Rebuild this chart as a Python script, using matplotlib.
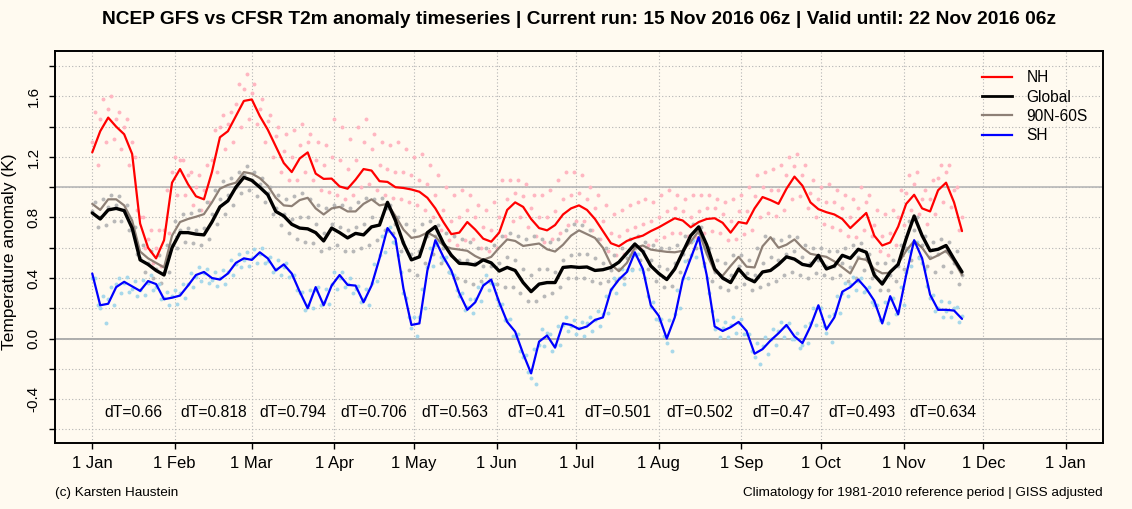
import numpy as np
import matplotlib
matplotlib.use("Agg")
import matplotlib.pyplot as plt
from matplotlib.lines import Line2D

plt.rcParams['font.family'] = ['Liberation Sans', 'DejaVu Sans']

# ---------------- data (day of year 2016, 0 = 1 Jan) ----------------
month_starts = [0, 31, 60, 91, 121, 152, 182, 213, 244, 274, 305, 335, 366]
month_labels = ['1 Jan', '1 Feb', '1 Mar', '1 Apr', '1 May', '1 Jun', '1 Jul',
                '1 Aug', '1 Sep', '1 Oct', '1 Nov', '1 Dec', '1 Jan']
dT_values = ['0.66', '0.818', '0.794', '0.706', '0.563', '0.41', '0.501',
             '0.502', '0.47', '0.493', '0.634']

# smoothed lines, sampled every 3 days starting 1 Jan
nh_line = [1.23, 1.37, 1.46, 1.40, 1.35, 1.22, 0.76, 0.60, 0.53, 0.65,
           1.03, 1.12, 1.02, 0.94, 0.92, 1.10, 1.33, 1.37, 1.47, 1.57,
           1.58, 1.47, 1.38, 1.27, 1.16, 1.10, 1.19, 1.23, 1.09, 1.055,
           1.057, 1.005, 0.99, 1.05, 1.12, 1.11, 1.04, 1.035, 1.00, 0.995,
           0.985, 0.97, 0.93, 0.86, 0.77, 0.69, 0.70, 0.77, 0.72, 0.66,
           0.64, 0.70, 0.85, 0.90, 0.87, 0.79, 0.73, 0.715, 0.75, 0.82,
           0.86, 0.88, 0.85, 0.79, 0.71, 0.63, 0.61, 0.645, 0.665, 0.68,
           0.71, 0.735, 0.765, 0.795, 0.78, 0.735, 0.77, 0.79, 0.795, 0.765,
           0.70, 0.77, 0.76, 0.86, 0.935, 0.915, 0.89, 0.99, 1.07, 1.01,
           0.90, 0.855, 0.835, 0.82, 0.79, 0.73, 0.78, 0.83, 0.68, 0.615,
           0.635, 0.74, 0.89, 0.95, 0.86, 0.84, 0.98, 1.03, 0.90, 0.71]

global_line = [0.83, 0.79, 0.85, 0.86, 0.845, 0.73, 0.52, 0.49, 0.45, 0.42,
               0.60, 0.70, 0.70, 0.69, 0.685, 0.77, 0.87, 0.91, 1.00, 1.065,
               1.045, 1.00, 0.95, 0.84, 0.81, 0.755, 0.73, 0.725, 0.70, 0.645,
               0.73, 0.70, 0.665, 0.695, 0.685, 0.738, 0.75, 0.90, 0.78, 0.63,
               0.52, 0.54, 0.70, 0.74, 0.63, 0.55, 0.497, 0.495, 0.486, 0.52,
               0.50, 0.446, 0.47, 0.45, 0.37, 0.31, 0.36, 0.37, 0.37, 0.47,
               0.475, 0.47, 0.473, 0.45, 0.455, 0.47, 0.505, 0.565, 0.625, 0.575,
               0.48, 0.43, 0.39, 0.46, 0.57, 0.68, 0.738, 0.62, 0.46, 0.40,
               0.37, 0.46, 0.40, 0.375, 0.44, 0.45, 0.49, 0.54, 0.525, 0.49,
               0.48, 0.55, 0.46, 0.48, 0.55, 0.53, 0.59, 0.57, 0.42, 0.36,
               0.44, 0.49, 0.66, 0.81, 0.68, 0.58, 0.59, 0.615, 0.525, 0.44]

ext_line = [0.89, 0.85, 0.92, 0.92, 0.88, 0.78, 0.575, 0.53, 0.50, 0.47,
            0.68, 0.77, 0.79, 0.805, 0.822, 0.90, 0.99, 1.015, 1.03, 1.10,
            1.09, 1.06, 1.01, 0.93, 0.88, 0.875, 0.915, 0.93, 0.86, 0.82,
            0.86, 0.87, 0.84, 0.84, 0.89, 0.92, 0.88, 0.89, 0.81, 0.72,
            0.665, 0.675, 0.70, 0.673, 0.615, 0.595, 0.588, 0.58, 0.545, 0.52,
            0.54, 0.60, 0.655, 0.645, 0.612, 0.62, 0.628, 0.59, 0.575, 0.62,
            0.68, 0.715, 0.69, 0.665, 0.60, 0.49, 0.445, 0.50, 0.60, 0.615,
            0.588, 0.58, 0.573, 0.57, 0.58, 0.64, 0.71, 0.56, 0.445, 0.415,
            0.48, 0.54, 0.475, 0.47, 0.61, 0.67, 0.60, 0.62, 0.655, 0.60,
            0.56, 0.55, 0.54, 0.51, 0.47, 0.43, 0.53, 0.52, 0.46, 0.431,
            0.435, 0.495, 0.58, 0.645, 0.60, 0.525, 0.55, 0.58, 0.51, 0.42]

sh_line = [0.43, 0.22, 0.23, 0.34, 0.375, 0.345, 0.315, 0.38, 0.36, 0.26,
           0.27, 0.284, 0.35, 0.42, 0.44, 0.40, 0.39, 0.43, 0.50, 0.53,
           0.52, 0.57, 0.53, 0.45, 0.49, 0.43, 0.31, 0.20, 0.34, 0.22,
           0.35, 0.42, 0.355, 0.35, 0.24, 0.35, 0.53, 0.73, 0.66, 0.33,
           0.09, 0.10, 0.45, 0.65, 0.54, 0.45, 0.30, 0.19, 0.24, 0.35,
           0.39, 0.24, 0.11, 0.046, -0.10, -0.23, -0.02, 0.02, -0.06, 0.10,
           0.09, 0.063, 0.08, 0.123, 0.14, 0.32, 0.39, 0.44, 0.57, 0.46,
           0.22, 0.15, 0.00, 0.14, 0.39, 0.53, 0.67, 0.42, 0.08, 0.05,
           0.075, 0.11, 0.05, -0.10, -0.07, -0.013, 0.035, 0.09, 0.015, -0.03,
           0.08, 0.22, 0.06, 0.14, 0.31, 0.34, 0.39, 0.33, 0.25, 0.10,
           0.28, 0.16, 0.42, 0.65, 0.53, 0.29, 0.19, 0.19, 0.185, 0.13]

# individual run points: upper, middle and lower part of each cloud
nh_pts_hi = [1.50, 1.58, 1.60, 1.50, 1.45, 1.20, 0.80, 0.72, 0.72, 0.98,
             1.20, 1.18, 1.10, 1.08, 1.15, 1.38, 1.48, 1.50, 1.68, 1.75,
             1.68, 1.58, 1.48, 1.40, 1.35, 1.38, 1.42, 1.35, 1.30, 1.28,
             1.45, 1.40, 1.32, 1.40, 1.45, 1.35, 1.30, 1.28, 1.30, 1.25,
             1.20, 1.22, 1.15, 1.08, 1.00, 0.95, 0.98, 0.95, 0.88, 0.85,
             0.90, 1.05, 1.05, 1.05, 1.02, 0.95, 0.95, 0.98, 1.05, 1.10,
             1.10, 1.08, 1.00, 0.95, 0.88, 0.82, 0.85, 0.88, 0.90, 0.92,
             0.90, 0.95, 0.98, 0.95, 0.92, 0.95, 0.95, 0.95, 0.92, 0.90,
             0.92, 0.95, 1.00, 1.08, 1.10, 1.12, 1.15, 1.20, 1.22, 1.15,
             1.05, 1.00, 1.02, 0.98, 0.95, 0.92, 1.00, 0.95, 0.85, 0.82,
             0.85, 0.98, 1.08, 1.10, 0.98, 1.05, 1.15, 1.15, 1.00]
nh_pts_mid = [1.30, 1.45, 1.52, 1.45, 1.40, 1.30, 0.80, 0.66, 0.60, 0.72,
              1.10, 1.18, 1.08, 1.00, 0.98, 1.18, 1.40, 1.42, 1.55, 1.65,
              1.62, 1.52, 1.44, 1.34, 1.24, 1.20, 1.28, 1.30, 1.18, 1.15,
              1.20, 1.18, 1.12, 1.18, 1.30, 1.25, 1.15, 1.12, 1.10, 1.10,
              1.08, 1.05, 1.02, 0.95, 0.85, 0.78, 0.80, 0.85, 0.80, 0.74,
              0.72, 0.80, 0.92, 0.96, 0.94, 0.86, 0.80, 0.80, 0.84, 0.92,
              0.95, 0.96, 0.92, 0.86, 0.78, 0.70, 0.68, 0.72, 0.74, 0.76,
              0.78, 0.80, 0.84, 0.86, 0.84, 0.80, 0.84, 0.86, 0.86, 0.82,
              0.78, 0.84, 0.84, 0.94, 1.00, 0.98, 0.98, 1.08, 1.14, 1.08,
              0.96, 0.92, 0.90, 0.90, 0.86, 0.80, 0.86, 0.90, 0.75, 0.68,
              0.70, 0.80, 0.96, 1.02, 0.92, 0.92, 1.06, 1.10, 0.98, 0.80]
nh_pts_lo = [1.15, 1.30, 1.32, 1.25, 1.15, 0.85, 0.60, 0.50, 0.48, 0.70,
             0.95, 0.95, 0.88, 0.85, 0.90, 1.10, 1.25, 1.30, 1.40, 1.45,
             1.42, 1.30, 1.20, 1.10, 1.05, 1.05, 1.10, 1.05, 0.98, 0.97,
             0.95, 0.92, 0.95, 1.00, 1.02, 0.98, 0.95, 0.93, 0.92, 0.90,
             0.88, 0.85, 0.80, 0.72, 0.65, 0.62, 0.65, 0.66, 0.60, 0.58,
             0.60, 0.68, 0.78, 0.80, 0.74, 0.68, 0.64, 0.66, 0.70, 0.75,
             0.78, 0.78, 0.72, 0.66, 0.58, 0.55, 0.56, 0.58, 0.60, 0.62,
             0.65, 0.67, 0.70, 0.70, 0.68, 0.67, 0.70, 0.71, 0.70, 0.65,
             0.66, 0.69, 0.72, 0.80, 0.83, 0.81, 0.85, 0.92, 0.94, 0.86,
             0.80, 0.76, 0.74, 0.72, 0.68, 0.67, 0.72, 0.68, 0.58, 0.55,
             0.62, 0.75, 0.85, 0.82, 0.76, 0.82, 0.90, 0.87, 0.72]
gl_pts_hi = [0.90, 0.92, 0.95, 0.94, 0.88, 0.74, 0.62, 0.58, 0.55, 0.62,
             0.78, 0.82, 0.83, 0.85, 0.90, 0.98, 1.04, 1.06, 1.10, 1.14,
             1.10, 1.06, 1.00, 0.95, 0.92, 0.94, 0.96, 0.92, 0.88, 0.86,
             0.88, 0.88, 0.86, 0.90, 0.93, 0.92, 0.93, 0.88, 0.80, 0.76,
             0.72, 0.76, 0.78, 0.75, 0.70, 0.68, 0.66, 0.64, 0.60, 0.60,
             0.62, 0.68, 0.70, 0.68, 0.66, 0.68, 0.66, 0.64, 0.66, 0.72,
             0.76, 0.75, 0.72, 0.66, 0.60, 0.55, 0.60, 0.66, 0.68, 0.64,
             0.62, 0.60, 0.60, 0.62, 0.68, 0.76, 0.74, 0.60, 0.52, 0.50,
             0.55, 0.55, 0.52, 0.60, 0.68, 0.66, 0.65, 0.68, 0.67, 0.62,
             0.60, 0.60, 0.58, 0.58, 0.60, 0.62, 0.63, 0.56, 0.50, 0.50,
             0.52, 0.62, 0.78, 0.80, 0.68, 0.64, 0.66, 0.64, 0.58]
gl_pts_mid = [0.84, 0.80, 0.87, 0.88, 0.85, 0.74, 0.53, 0.50, 0.46, 0.44,
              0.62, 0.72, 0.73, 0.72, 0.73, 0.82, 0.92, 0.95, 1.00, 1.08,
              1.05, 1.02, 0.96, 0.86, 0.82, 0.79, 0.80, 0.80, 0.76, 0.70,
              0.76, 0.74, 0.72, 0.74, 0.76, 0.80, 0.78, 0.86, 0.76, 0.64,
              0.56, 0.58, 0.68, 0.68, 0.60, 0.55, 0.52, 0.52, 0.50, 0.48,
              0.48, 0.50, 0.54, 0.52, 0.46, 0.42, 0.46, 0.46, 0.44, 0.52,
              0.55, 0.56, 0.56, 0.53, 0.50, 0.45, 0.46, 0.53, 0.60, 0.58,
              0.52, 0.48, 0.46, 0.50, 0.56, 0.64, 0.70, 0.58, 0.44, 0.40,
              0.42, 0.48, 0.43, 0.42, 0.50, 0.54, 0.52, 0.56, 0.58, 0.54,
              0.50, 0.52, 0.48, 0.48, 0.50, 0.47, 0.54, 0.53, 0.43, 0.38,
              0.42, 0.48, 0.60, 0.72, 0.62, 0.54, 0.56, 0.58, 0.50, 0.42]
gl_pts_lo = [0.74, 0.75, 0.78, 0.78, 0.72, 0.56, 0.44, 0.40, 0.37, 0.44,
             0.60, 0.64, 0.63, 0.62, 0.66, 0.76, 0.82, 0.88, 0.96, 0.98,
             0.94, 0.90, 0.82, 0.75, 0.70, 0.66, 0.64, 0.63, 0.58, 0.60,
             0.62, 0.58, 0.58, 0.60, 0.62, 0.65, 0.72, 0.70, 0.58, 0.45,
             0.42, 0.50, 0.56, 0.50, 0.44, 0.40, 0.38, 0.36, 0.38, 0.38,
             0.36, 0.34, 0.34, 0.30, 0.25, 0.25, 0.28, 0.30, 0.34, 0.40,
             0.40, 0.40, 0.38, 0.37, 0.38, 0.38, 0.40, 0.46, 0.52, 0.46,
             0.38, 0.34, 0.35, 0.44, 0.52, 0.60, 0.50, 0.38, 0.34, 0.32,
             0.34, 0.36, 0.32, 0.34, 0.36, 0.38, 0.42, 0.44, 0.42, 0.40,
             0.43, 0.42, 0.40, 0.42, 0.38, 0.40, 0.45, 0.40, 0.32, 0.32,
             0.38, 0.46, 0.52, 0.54, 0.48, 0.44, 0.48, 0.44, 0.36]
sh_pts_hi = [0.40, 0.28, 0.34, 0.40, 0.41, 0.38, 0.39, 0.42, 0.36, 0.31,
             0.32, 0.36, 0.43, 0.47, 0.46, 0.44, 0.45, 0.52, 0.56, 0.57,
             0.59, 0.60, 0.54, 0.52, 0.50, 0.42, 0.31, 0.32, 0.34, 0.33,
             0.44, 0.44, 0.40, 0.35, 0.33, 0.49, 0.68, 0.74, 0.55, 0.27,
             0.14, 0.33, 0.60, 0.64, 0.54, 0.42, 0.30, 0.26, 0.34, 0.42,
             0.36, 0.23, 0.13, 0.03, -0.11, -0.07, 0.06, 0.03, 0.08, 0.14,
             0.12, 0.11, 0.14, 0.18, 0.28, 0.40, 0.46, 0.55, 0.56, 0.40,
             0.24, 0.13, 0.12, 0.32, 0.51, 0.65, 0.60, 0.30, 0.12, 0.11,
             0.14, 0.13, 0.03, -0.03, 0.01, 0.06, 0.11, 0.10, 0.04, 0.08,
             0.20, 0.20, 0.15, 0.28, 0.37, 0.41, 0.40, 0.34, 0.22, 0.24,
             0.27, 0.34, 0.58, 0.64, 0.46, 0.29, 0.25, 0.24, 0.21]
sh_pts_mid = [0.40, 0.20, 0.26, 0.36, 0.37, 0.33, 0.32, 0.37, 0.34, 0.27,
              0.28, 0.30, 0.36, 0.41, 0.43, 0.39, 0.40, 0.44, 0.49, 0.52,
              0.53, 0.56, 0.51, 0.46, 0.47, 0.42, 0.30, 0.22, 0.32, 0.24,
              0.36, 0.40, 0.36, 0.33, 0.26, 0.37, 0.55, 0.71, 0.63, 0.30,
              0.07, 0.14, 0.47, 0.62, 0.52, 0.43, 0.28, 0.21, 0.26, 0.36,
              0.37, 0.22, 0.12, 0.02, -0.12, -0.26, -0.04, 0.04, -0.04, 0.09,
              0.08, 0.07, 0.10, 0.12, 0.16, 0.33, 0.40, 0.45, 0.55, 0.44,
              0.21, 0.12, -0.03, 0.16, 0.40, 0.55, 0.66, 0.40, 0.06, 0.07,
              0.09, 0.10, 0.03, -0.12, -0.05, 0.00, 0.05, 0.08, 0.00, -0.04,
              0.10, 0.21, 0.04, 0.16, 0.30, 0.36, 0.38, 0.32, 0.22, 0.12,
              0.26, 0.18, 0.44, 0.63, 0.50, 0.27, 0.20, 0.18, 0.20, 0.15]
sh_pts_lo = [0.22, 0.10, 0.22, 0.30, 0.31, 0.28, 0.29, 0.32, 0.26, 0.22,
             0.23, 0.27, 0.34, 0.38, 0.37, 0.35, 0.36, 0.42, 0.47, 0.48,
             0.50, 0.50, 0.44, 0.42, 0.41, 0.32, 0.19, 0.20, 0.22, 0.23,
             0.33, 0.34, 0.30, 0.24, 0.22, 0.38, 0.57, 0.64, 0.44, 0.14,
             0.02, 0.20, 0.48, 0.54, 0.44, 0.32, 0.19, 0.17, 0.25, 0.32,
             0.26, 0.12, 0.02, -0.08, -0.22, -0.30, -0.05, -0.08, -0.04, 0.05,
             0.03, 0.02, 0.05, 0.08, 0.17, 0.30, 0.36, 0.45, 0.46, 0.28,
             0.13, 0.02, -0.08, 0.20, 0.40, 0.54, 0.48, 0.18, 0.01, 0.01,
             0.04, 0.03, -0.08, -0.17, -0.10, -0.04, 0.01, 0.00, -0.06, -0.03,
             0.09, 0.08, -0.02, 0.17, 0.28, 0.32, 0.31, 0.24, 0.12, 0.10,
             0.16, 0.22, 0.48, 0.53, 0.35, 0.18, 0.14, 0.14, 0.11]

series_names = ['NH', 'Global', '90N-60S', 'SH']

# ---------------- figure ----------------
BG = '#FFFAF0'
W, H = 1132, 509
fig = plt.figure(figsize=(W / 100, H / 100), dpi=100, facecolor=BG)
ax = fig.add_axes([55 / W, 1 - 443 / H, (1103 - 55) / W, (443 - 51) / H])
ax.set_facecolor(BG)

line_days = np.arange(len(nh_line)) * 3
mid_days = np.arange(len(nh_pts_mid)) * 3
hi_days = np.arange(len(nh_pts_hi)) * 3 + 1
lo_days = np.arange(len(nh_pts_lo)) * 3 + 2

# grid and reference lines
ax.grid(True, linestyle=(0, (1, 2)), color='#B4B4B4', linewidth=0.8, zorder=0)
ax.axhline(0.0, color='#A6A6A6', linewidth=1.3, zorder=1)
ax.axhline(1.0, color='#BDBDBD', linewidth=1.3, zorder=1)

# point clouds
dot_kw = dict(s=8, linewidths=0, zorder=2)
for days, vals, col in [(hi_days, nh_pts_hi, '#FFB6C1'), (mid_days, nh_pts_mid, '#FFB6C1'),
                        (lo_days, nh_pts_lo, '#FFB6C1'),
                        (hi_days, gl_pts_hi, '#B8B8B8'), (mid_days, gl_pts_mid, '#B8B8B8'),
                        (lo_days, gl_pts_lo, '#B8B8B8'),
                        (hi_days, sh_pts_hi, '#A8D8EA'), (mid_days, sh_pts_mid, '#A8D8EA'),
                        (lo_days, sh_pts_lo, '#A8D8EA')]:
    ax.scatter(days, vals, color=col, **dot_kw)

# smoothed lines
c_nh, c_gl, c_ext, c_sh = '#FF0000', '#000000', '#8E8076', '#0000FF'
lkw = dict(solid_joinstyle='round', solid_capstyle='round')
ax.plot(line_days, nh_line, color=c_nh, lw=1.6, zorder=3, **lkw)
ax.plot(line_days, ext_line, color=c_ext, lw=1.6, zorder=3, **lkw)
ax.plot(line_days, sh_line, color=c_sh, lw=1.6, zorder=3, **lkw)
ax.plot(line_days, global_line, color=c_gl, lw=2.4, zorder=4, **lkw)

# axes
ax.set_xlim(-14, 380)
ax.set_ylim(-0.69, 1.90)
ax.set_xticks(month_starts)
ax.set_xticklabels(month_labels)
yt = np.round(np.arange(-0.6, 1.81, 0.2), 1)
ax.set_yticks(yt)
ax.set_yticklabels(['%.1f' % v if abs(round(v / 0.4) * 0.4 - v) < 1e-6 else '' for v in yt],
                   rotation=90, va='center')
ax.tick_params(axis='both', direction='out', length=4.5, width=1.0, colors='black')
ax.tick_params(axis='x', pad=5, labelsize=12)
ax.tick_params(axis='y', pad=6, labelsize=11)
for sp in ax.spines.values():
    sp.set_linewidth(1.4)
    sp.set_color('black')

# monthly dT annotations
for i, val in enumerate(dT_values):
    mid = (month_starts[i] + month_starts[i + 1]) / 2
    ax.text(mid, -0.49, 'dT=' + val, ha='center', va='center', fontsize=11.3)

# legend
handles = [Line2D([], [], color=c, lw=lw) for c, lw in
           zip([c_nh, c_gl, c_ext, c_sh], [1.6, 2.0, 1.6, 1.6])]
leg = fig.legend(handles, series_names, loc='upper left',
                 bbox_to_anchor=(976 / W, 1 - 64 / H), frameon=False,
                 fontsize=11.2, handlelength=1.9, handletextpad=0.95,
                 labelspacing=0.28, borderaxespad=0.0)

# texts
fig.text(579 / W, 1 - 20 / H,
         'NCEP GFS vs CFSR T2m anomaly timeseries | Current run: 15 Nov 2016 06z | Valid until: 22 Nov 2016 06z',
         ha='center', va='center', fontsize=13.8, fontweight='bold')
fig.text(2 / W, 1 - 252 / H, 'Temperature anomaly (K)', rotation=90,
         ha='left', va='center', fontsize=12.5)
fig.text(55 / W, 1 - 493 / H, '(c) Karsten Haustein', ha='left', va='center', fontsize=9.7)
fig.text(1103 / W, 1 - 493 / H, 'Climatology for 1981-2010 reference period | GISS adjusted',
         ha='right', va='center', fontsize=9.7)

fig.savefig('out.png', dpi=100, facecolor=BG)
